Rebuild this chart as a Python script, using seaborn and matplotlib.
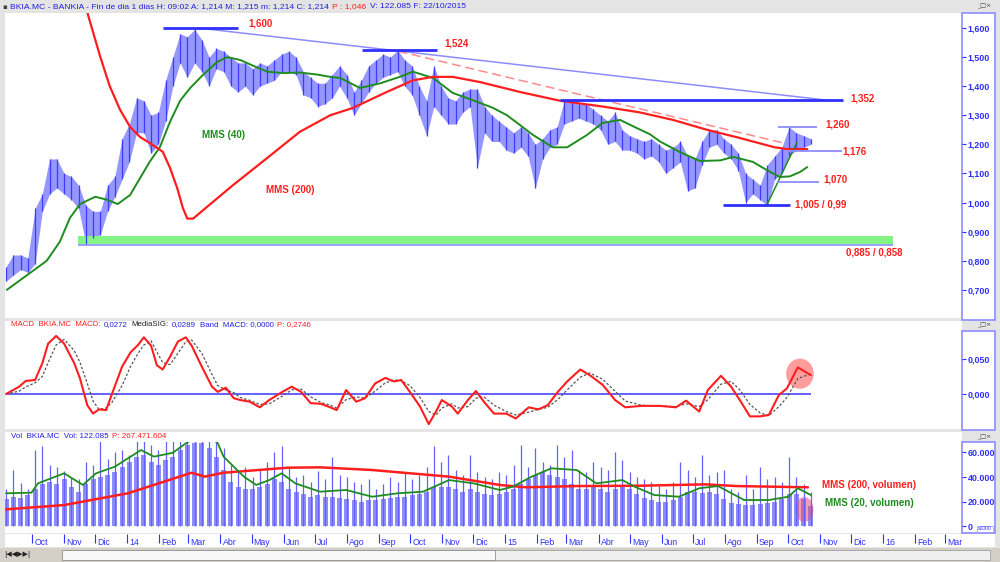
import pandas as pd
import seaborn as sns
import matplotlib
matplotlib.use('Agg')
import matplotlib.pyplot as plt
from matplotlib.patches import Rectangle, Ellipse

# ---- data (x in weeks since 2013-09-06) ----
START = pd.Timestamp('2013-09-06')

price_low = [
    0.73, 0.75, 0.77, 0.76, 0.79, 0.97, 1.03, 1.05, 1.03, 1.01, 0.98, 0.858,
    0.88, 0.89, 0.97, 1.02, 1.08, 1.14, 1.24, 1.24, 1.17, 1.20, 1.28, 1.40,
    1.48, 1.43, 1.48, 1.45, 1.40, 1.46, 1.45, 1.40, 1.38, 1.40, 1.37, 1.40,
    1.41, 1.42, 1.45, 1.45, 1.44, 1.37, 1.36, 1.33, 1.34, 1.36, 1.40, 1.36,
    1.30, 1.34, 1.38, 1.41, 1.43, 1.44, 1.45, 1.40, 1.37, 1.30, 1.23, 1.33,
    1.30, 1.27, 1.27, 1.31, 1.33, 1.12, 1.24, 1.21, 1.21, 1.18, 1.17, 1.19,
    1.16, 1.05, 1.15, 1.19, 1.20, 1.27, 1.28, 1.29, 1.28, 1.27, 1.25, 1.20,
    1.21, 1.18, 1.18, 1.17, 1.15, 1.16, 1.14, 1.10, 1.12, 1.14, 1.04, 1.05,
    1.13, 1.19, 1.20, 1.17, 1.15, 1.11, 1.00, 1.03, 1.01, 0.99, 1.08, 1.10,
    1.16, 1.18, 1.19, 1.20,
]
price_high = [
    0.78, 0.82, 0.82, 0.81, 0.98, 1.03, 1.15, 1.15, 1.10, 1.09, 1.06, 0.99,
    0.97, 0.97, 1.06, 1.09, 1.22, 1.27, 1.36, 1.35, 1.30, 1.31, 1.42, 1.50,
    1.58, 1.57, 1.595, 1.56, 1.50, 1.53, 1.52, 1.50, 1.48, 1.48, 1.46, 1.48,
    1.47, 1.49, 1.51, 1.52, 1.50, 1.45, 1.43, 1.41, 1.41, 1.44, 1.47, 1.44,
    1.38, 1.42, 1.47, 1.49, 1.51, 1.50, 1.524, 1.49, 1.47, 1.40, 1.35, 1.47,
    1.40, 1.36, 1.35, 1.38, 1.39, 1.39, 1.33, 1.30, 1.28, 1.26, 1.24, 1.26,
    1.24, 1.20, 1.22, 1.25, 1.26, 1.352, 1.35, 1.34, 1.34, 1.32, 1.30, 1.28,
    1.31, 1.25, 1.23, 1.22, 1.21, 1.22, 1.20, 1.18, 1.19, 1.21, 1.16, 1.15,
    1.21, 1.25, 1.25, 1.22, 1.20, 1.17, 1.10, 1.08, 1.06, 1.13, 1.16, 1.19,
    1.26, 1.24, 1.23, 1.22,
]
weeks = list(range(len(price_low)))

mms40_wk = [0.1, 5.6, 7.4, 8.8, 10.2, 12.3, 13.9, 15.4, 17.1, 18.5, 19.8, 21.2,
            22.6, 24.0, 25.4, 27.2, 29.1, 30.5, 32.3, 34.1, 36.0, 38.2, 40.5,
            42.9, 44.7, 46.1, 48.8, 51.6, 54.3, 56.1, 58.9, 61.6, 65.0, 67.2,
            69.1, 72.7, 75.4, 77.4, 80.1, 82.3, 84.7, 87.0, 88.8, 90.2, 92.9,
            95.7, 98.5, 100.3, 103.0, 104.9, 106.7, 108.1, 109.5, 110.5]
mms40_val = [0.70, 0.80, 0.865, 0.947, 0.995, 1.02, 1.01, 0.995, 1.026, 1.085,
             1.14, 1.19, 1.277, 1.35, 1.394, 1.44, 1.483, 1.50, 1.49, 1.47,
             1.45, 1.445, 1.447, 1.44, 1.432, 1.428, 1.394, 1.41, 1.432, 1.45,
             1.428, 1.377, 1.346, 1.325, 1.30, 1.232, 1.19, 1.19, 1.232, 1.274,
             1.284, 1.256, 1.235, 1.21, 1.174, 1.143, 1.145, 1.157, 1.14,
             1.112, 1.088, 1.09, 1.105, 1.122]

mms200_wk = [10.8, 11.3, 13.0, 14.3, 15.7, 17.1, 18.5, 19.8, 21.6, 22.6, 23.6,
             24.4, 25.0, 25.8, 26.7, 31.3, 36.0, 40.5, 44.7, 47.8, 52.5, 56.1,
             58.9, 61.6, 65.4, 70.9, 76.4, 82.3, 87.4, 92.0, 96.7, 101.2,
             106.0, 107.7, 110.5]
mms200_val = [1.72, 1.645, 1.50, 1.40, 1.32, 1.26, 1.225, 1.205, 1.175, 1.12,
              1.05, 0.98, 0.945, 0.945, 0.964, 1.06, 1.153, 1.243, 1.30, 1.325,
              1.38, 1.42, 1.432, 1.432, 1.414, 1.38, 1.35, 1.33, 1.31, 1.284,
              1.25, 1.222, 1.19, 1.184, 1.184]

macd_wk = [0, 1.8, 2.7, 4.0, 5.0, 5.8, 6.9, 8.0, 9.4, 10.2, 11.2, 12.0, 12.8,
           13.8, 14.6, 16.0, 17.2, 18.2, 19.0, 20.0, 20.8, 21.6, 22.6, 23.7,
           24.8, 25.6, 27.0, 28.4, 29.2, 30.3, 31.4, 32.3, 33.6, 35.0, 36.3,
           38.1, 39.4, 40.7, 42.0, 43.4, 44.7, 45.6, 46.9, 48.3, 49.5, 50.9,
           52.3, 53.5, 54.5, 55.7, 57.1, 58.3, 59.3, 60.1, 61.5, 62.3, 63.7,
           64.8, 65.9, 67.3, 69.0, 70.3, 72.1, 73.4, 74.7, 76.1, 77.4, 79.2,
           80.5, 82.3, 84.0, 85.4, 87.6, 90.2, 92.4, 93.8, 95.6, 96.8, 98.6,
           100.0, 101.2, 102.6, 104.0, 105.2, 106.6, 107.7, 109.2, 111.0]
macd_val = [0, 0.0105, 0.0186, 0.020, 0.044, 0.072, 0.083, 0.072, 0.044, 0.022,
            -0.016, -0.028, -0.022, -0.023, 0, 0.039, 0.060, 0.070, 0.081,
            0.069, 0.041, 0.035, 0.053, 0.075, 0.081, 0.069, 0.039, 0.0105,
            0.003, 0.009, -0.006, -0.0086, -0.011, -0.019, -0.0086, 0.003,
            0.0105, 0.003, -0.013, -0.014, -0.019, -0.023, 0.0057, -0.011,
            -0.006, 0.015, 0.023, 0.018, 0.020, 0.003, -0.018, -0.043, -0.025,
            -0.0086, -0.018, -0.028, -0.0086, 0.0043, -0.011, -0.028, -0.028,
            -0.035, -0.019, -0.022, -0.016, 0.003, 0.018, 0.035, 0.027, 0.013,
            -0.0086, -0.019, -0.017, -0.017, -0.019, -0.0095, -0.025, 0.0057,
            0.026, 0.0105, -0.0086, -0.032, -0.032, -0.030, -0.0014, 0.008,
            0.038, 0.027]
signal_val = [0, 0.004, 0.010, 0.016, 0.025, 0.045, 0.070, 0.078, 0.062, 0.045,
              0.015, -0.010, -0.022, -0.020, -0.012, 0.012, 0.040, 0.058,
              0.070, 0.076, 0.060, 0.045, 0.042, 0.058, 0.075, 0.077, 0.058,
              0.028, 0.012, 0.006, 0.002, -0.005, -0.009, -0.015, -0.014,
              -0.003, 0.006, 0.007, -0.004, -0.012, -0.016, -0.020, -0.008,
              -0.004, -0.006, 0.004, 0.016, 0.020, 0.019, 0.012, -0.005,
              -0.025, -0.030, -0.020, -0.014, -0.020, -0.018, -0.006, -0.004,
              -0.016, -0.025, -0.030, -0.026, -0.022, -0.019, -0.008, 0.006,
              0.024, 0.030, 0.021, 0.004, -0.010, -0.016, -0.017, -0.018,
              -0.014, -0.018, -0.008, 0.014, 0.018, 0.006, -0.015, -0.027,
              -0.031, -0.018, -0.005, 0.022, 0.029]

# volume in thousands, one value per week
vol_base = [22, 24, 23, 25, 30, 34, 36, 34, 38, 32, 28, 34,
            38, 40, 42, 44, 48, 52, 56, 58, 52, 50, 54, 56,
            62, 66, 68, 68, 64, 56, 46, 36, 32, 30, 30, 32,
            34, 38, 36, 30, 28, 26, 24, 25, 24, 24, 23, 22,
            21, 20, 21, 21, 22, 23, 24, 24, 25, 26, 28, 32,
            32, 32, 30, 28, 30, 28, 26, 25, 26, 28, 30, 34,
            38, 42, 44, 42, 40, 38, 34, 30, 30, 32, 30, 28,
            30, 32, 30, 26, 23, 21, 20, 20, 21, 24, 28, 28,
            27, 28, 26, 22, 19, 18, 17, 17, 18, 19, 20, 22,
            26, 26, 22, 16]
vol_peak = [30, 46, 35, 30, 62, 65, 50, 48, 45, 40, 38, 52,
            50, 70, 55, 60, 62, 58, 70, 72, 66, 62, 72, 70,
            75, 75, 75, 75, 75, 72, 64, 50, 45, 48, 40, 46,
            52, 60, 65, 48, 40, 42, 36, 45, 38, 56, 42, 40,
            36, 34, 38, 30, 34, 40, 36, 44, 38, 42, 48, 65,
            52, 58, 46, 42, 58, 44, 40, 38, 44, 42, 50, 66,
            48, 64, 52, 50, 66, 56, 62, 46, 44, 52, 48, 46,
            60, 54, 44, 40, 38, 36, 33, 30, 36, 52, 46, 40,
            58, 42, 44, 46, 30, 28, 42, 30, 48, 38, 40, 36,
            56, 40, 34, 28]

vma20_wk = [0, 3.5, 4.4, 8.0, 10.6, 12.4, 15.0, 18.6, 20.4, 23.0, 24.8, 26.0,
            28.0, 29.2, 30.0, 32.8, 34.5, 36.3, 38.0, 39.9, 43.3, 46.9, 50.5,
            54.0, 57.5, 61.1, 64.5, 68.1, 69.9, 72.5, 75.2, 78.7, 81.4, 85.0,
            86.7, 89.4, 92.8, 95.6, 98.2, 101.8, 105.2, 107.9, 109.2, 111.0]
vma20_val = [26.7, 27.2, 34.8, 43.0, 33.5, 43.0, 48.4, 62.0, 56.6, 59.8, 67.5,
             72.0, 74.0, 67.5, 56.6, 40.3, 33.5, 37.5, 43.0, 34.8, 28.0, 29.4,
             23.9, 26.7, 28.0, 37.5, 34.8, 29.4, 32.1, 40.3, 47.1, 45.7, 34.8,
             37.5, 32.1, 25.3, 23.9, 30.8, 32.6, 21.2, 21.2, 23.9, 30.8, 25.3]

vma200_wk = [0, 8.0, 16.8, 25.6, 27.4, 30.0, 38.9, 43.3, 50.5, 61.1, 68.1,
             71.7, 78.7, 87.6, 96.4, 100.8, 110.6]
vma200_val = [13.6, 17.1, 26.7, 43.5, 40.3, 43.5, 47.6, 47.9, 45.7, 40.3, 33.5,
              31.6, 32.6, 32.9, 34.0, 32.6, 31.6]

key_levels = [1.600, 1.524, 1.352, 0.990]
minor_levels = [1.260, 1.176, 1.070]
MESES = ['Ene', 'Feb', 'Mar', 'Abr', 'May', 'Jun', 'Jul', 'Ago', 'Sep', 'Oct', 'Nov', 'Dic']

BLUE = '#2f2fff'
LBLUE = '#8c8cff'
RED = '#ff1e1e'
GREEN = '#1e8c1e'
W, H = 1000, 562
XLIM = (-0.15, 131.85)


def box(x0, y0, x1, y1):
    # pixel box (from top-left) -> figure fraction
    return [x0 / W, 1 - y1 / H, (x1 - x0) / W, (y1 - y0) / H]


def panel(fig, x0, y0, x1, y1, face='white', edge='none', lw=0):
    fig.patches.append(Rectangle((x0 / W, 1 - y1 / H), (x1 - x0) / W, (y1 - y0) / H,
                                 transform=fig.transFigure, facecolor=face,
                                 edgecolor=edge, lw=lw, zorder=-1))


def text_chain(fig, x, y, parts, size):
    renderer = fig.canvas.get_renderer()
    x = x / W
    for s, c in parts:
        t = fig.text(x, 1 - y / H, s, color=c, fontsize=size, va='center', ha='left')
        bb = t.get_window_extent(renderer=renderer)
        x = bb.x1 / fig.bbox.width + 3.5 / W


def style_axis(ax, ticks, labels, ylim):
    ax.set_facecolor('none')
    ax.set_xlim(*XLIM)
    ax.set_ylim(*ylim)
    for s in ax.spines.values():
        s.set_visible(False)
    ax.yaxis.tick_right()
    ax.set_yticks(ticks)
    ax.set_yticklabels(labels)
    ax.tick_params(axis='y', direction='out', length=3, pad=1, colors=BLUE,
                   labelsize=6.4, width=0.8)
    ax.set_xticks([])
    ax.set_xlabel('')
    ax.set_ylabel('')
    for lab in ax.get_yticklabels():
        lab.set_fontweight('bold')


sns.set_style('white')
plt.rcParams['font.family'] = ['Liberation Sans', 'DejaVu Sans']

fig = plt.figure(figsize=(10, 5.62), dpi=100, facecolor='#e4e4e4')

# backgrounds
panel(fig, 5, 13, 962, 318)
panel(fig, 5, 321, 962, 429)
panel(fig, 5, 432, 962, 533)
panel(fig, 5, 534, 995, 547)
panel(fig, 962, 13, 995, 320, edge=LBLUE, lw=1.2)
panel(fig, 962, 331, 995, 430, edge=LBLUE, lw=1.2)
panel(fig, 962, 442, 995, 533, edge=LBLUE, lw=1.2)
panel(fig, 0, 548, 1000, 562, face='#d4d0c8')
panel(fig, 62, 550, 990, 560, face='#efefef', edge='#a0a0a0', lw=0.6)
panel(fig, 62, 550, 495, 560, face='#f8f8f8', edge='#909090', lw=0.6)

# ---- main price panel ----
ax = fig.add_axes(box(5, 13, 962, 318))
ax.fill_between(weeks, price_low, price_high, color='#7c7cff', lw=0, alpha=0.8)
ax.vlines(weeks, price_low, price_high, color='#3c3cff', lw=0.9)

ax.add_patch(Rectangle((9.9, 0.858), 112.4, 0.027, facecolor='#84f584', edgecolor='none'))
ax.hlines(0.855, 9.9, 122.3, color=LBLUE, lw=1.2)

sns.lineplot(x=mms40_wk, y=mms40_val, ax=ax, color=GREEN, lw=1.4, estimator=None, sort=False)
sns.lineplot(x=mms200_wk, y=mms200_val, ax=ax, color=RED, lw=1.6, estimator=None, sort=False)

# trend lines
ax.plot([26.5, 113.2], [1.600, 1.352], color=LBLUE, lw=1.1)
ax.plot([54.1, 107.2], [1.520, 1.205], color='#ff8a8a', lw=1.1, ls=(0, (6, 3)))
ax.plot([104.9, 109.1], [0.990, 1.208], color=GREEN, lw=1.1)

for lvl, (x0, x1) in zip(key_levels, [(21.7, 32.0), (49.1, 59.4), (76.4, 115.4), (98.9, 108.1)]):
    ax.hlines(lvl, x0, x1, color=BLUE, lw=2)
for lvl, (x0, x1) in zip(minor_levels, [(106.5, 111.9), (107.9, 115.3), (106.3, 112.1)]):
    ax.hlines(lvl, x0, x1, color=LBLUE, lw=1.3)

lab_kw = dict(color=RED, fontsize=7, fontweight='bold', va='center', ha='left')
ax.text(33.4, 1.617, '1,600', **lab_kw)
ax.text(60.5, 1.548, '1,524', **lab_kw)
ax.text(116.5, 1.356, '1,352', **lab_kw)
ax.text(113.0, 1.270, '1,260', **lab_kw)
ax.text(115.3, 1.174, '1,176', **lab_kw)
ax.text(112.7, 1.081, '1,070', **lab_kw)
ax.text(108.8, 0.995, '1,005 / 0,99', **lab_kw)
ax.text(115.9, 0.827, '0,885 / 0,858', **lab_kw)
ax.text(27.0, 1.232, 'MMS (40)', color=GREEN, fontsize=7, fontweight='bold', va='center')
ax.text(35.8, 1.043, 'MMS (200)', color=RED, fontsize=7, fontweight='bold', va='center')

price_ticks = [0.7, 0.8, 0.9, 1.0, 1.1, 1.2, 1.3, 1.4, 1.5, 1.6]
style_axis(ax, price_ticks, [f'{v:.3f}'.replace('.', ',') for v in price_ticks], (0.6034, 1.6515))

# ---- MACD panel ----
ax2 = fig.add_axes(box(5, 321, 962, 429))
ax2.hlines(0, 0, 111, color='#4848ff', lw=1.2)
sns.lineplot(x=macd_wk, y=signal_val, ax=ax2, color='#555555', lw=0.9, ls=(0, (2, 1.5)),
             estimator=None, sort=False)
sns.lineplot(x=macd_wk, y=macd_val, ax=ax2, color=RED, lw=1.5, estimator=None, sort=False)
ax2.add_patch(Ellipse((109.5, 0.029), 3.8, 0.043, facecolor='#ff5a5a', alpha=0.6, edgecolor='none'))
style_axis(ax2, [0, 0.05], ['0,000', '0,050'], (-0.05, 0.1043))

# ---- volume panel ----
ax3 = fig.add_axes(box(5, 442, 962, 533))
ax3.bar(weeks, vol_base, width=0.7, color='#8c8cff', lw=0)
ax3.vlines(weeks, 0, vol_peak, color='#6262ff', lw=0.9)
sns.lineplot(x=vma200_wk, y=vma200_val, ax=ax3, color=RED, lw=1.8, estimator=None, sort=False)
sns.lineplot(x=vma20_wk, y=vma20_val, ax=ax3, color=GREEN, lw=1.3, estimator=None, sort=False)
ax3.add_patch(Ellipse((110.1, 13.5), 2.5, 20.4, facecolor='#e0507a', alpha=0.55, edgecolor='none'))
ax3.text(112.5, 33.5, 'MMS (200, volumen)', color=RED, fontsize=7, fontweight='bold', va='center')
ax3.text(112.9, 19.0, 'MMS (20, volumen)', color=GREEN, fontsize=7, fontweight='bold', va='center')
style_axis(ax3, [0, 20, 40, 60], ['0', '20.000', '40.000', '60.000'], (-5.71, 68.57))

# ---- month strip ----
ax4 = fig.add_axes(box(5, 534, 962, 547))
ax4.set_facecolor('none')
ax4.set_xlim(*XLIM)
ax4.set_ylim(0, 1)
ax4.axis('off')
month_starts = pd.date_range('2013-10-01', '2016-03-01', freq='MS')
month_wk = [(d - START).days / 7 for d in month_starts]
month_lab = [f'{d.year % 100}' if d.month == 1 else MESES[d.month - 1] for d in month_starts]
ax4.vlines(month_wk, 0.3, 1.0, color=BLUE, lw=0.8)
for xw, lab in zip(month_wk, month_lab):
    ax4.text(xw + 0.3, 0.38, lab, color=BLUE, fontsize=6.3, va='center', ha='left')

# ---- headers ----
text_chain(fig, 10, 7, [('BKIA.MC - BANKIA - Fin de dia 1 dias H: 09:02 A: 1,214 M: 1,215 m: 1,214 C: 1,214', '#2020e0'),
                        ('P : 1,046', RED), ('V: 122.085 F: 22/10/2015', '#2020e0')], 6.1)
text_chain(fig, 11, 325, [('MACD  BKIA.MC  MACD:', RED), ('0,0272', '#2020e0'), ('MediaSIG:', '#202020'),
                          ('0,0289', '#2020e0'), ('Band  MACD: 0,0000', '#2020e0'), ('P: 0,2746', RED)], 5.7)
text_chain(fig, 11, 437, [('Vol  BKIA.MC  Vol: 122.085', '#2020e0'), ('P: 267.471.604', RED)], 5.8)
fig.text(2 / W, 1 - 7 / H, '\u25aa', fontsize=5, color='#404040', va='center', family='DejaVu Sans')

for yy in (6, 325, 437):
    fig.text(984 / W, 1 - yy / H, '_\u25a1\u00d7', fontsize=4.5, color='#404040',
             va='center', ha='center', family='DejaVu Sans')
fig.text(985 / W, 1 - 529 / H, 'x1000', fontsize=3.6, color=BLUE, va='center', ha='center',
         bbox=dict(facecolor='white', edgecolor='#9090ff', lw=0.5, pad=0.6))
fig.text(4 / W, 1 - 555 / H, '|\u25c0\u25c0\u25b6\u25b6|', fontsize=5, color='#202020',
         va='center', family='DejaVu Sans')

fig.savefig('out.png', dpi=100, facecolor=fig.get_facecolor())
